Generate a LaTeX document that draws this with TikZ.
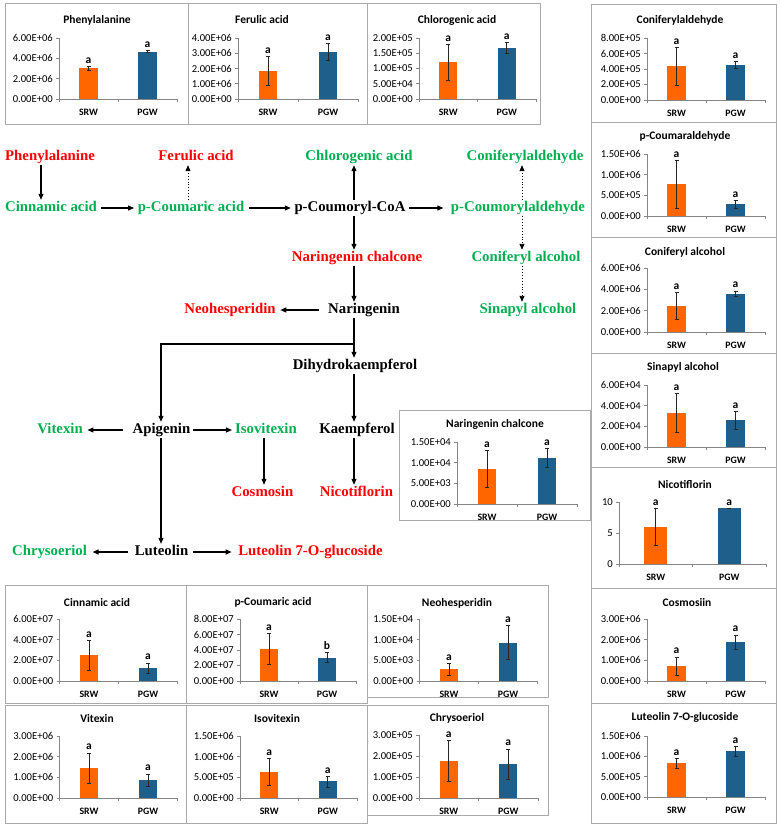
\documentclass[tikz,border=0pt]{standalone}
\usepackage{fontspec}
\setmainfont{Liberation Serif}
\newfontfamily\chartfont{Carlito}
\usetikzlibrary{arrows.meta}
\definecolor{pred}{RGB}{255,0,0}
\definecolor{pgreen}{RGB}{0,176,80}
\definecolor{orbar}{RGB}{255,102,0}
\definecolor{blbar}{RGB}{31,95,140}
\definecolor{boxgray}{RGB}{170,170,170}
\definecolor{axgray}{RGB}{134,134,134}
\tikzset{
 pwnode/.style={font=\fontsize{14.8}{16}\selectfont\bfseries, inner sep=1.5pt, text height=10pt, text depth=3pt},
 rd/.style={pwnode, text=pred},
 gr/.style={pwnode, text=pgreen},
 bk/.style={pwnode, text=black},
 arr/.style={-{Triangle[length=6pt,width=5pt]}, line width=1.1pt},
 darr/.style={-{Triangle[length=6pt,width=5pt]}, line width=0.9pt, dotted},
 boxline/.style={draw=boxgray, line width=0.8pt},
 axisline/.style={draw=axgray, line width=0.7pt},
 ctitle/.style={font=\chartfont\bfseries\fontsize{11.5}{13}\selectfont, inner sep=0pt},
 ticklab/.style={font=\chartfont\fontsize{10.6}{12}\selectfont, inner sep=0pt},
 catlab/.style={font=\chartfont\bfseries\fontsize{9.8}{11}\selectfont, inner sep=0pt},
 letter/.style={font=\chartfont\bfseries\fontsize{11.5}{13}\selectfont, inner sep=0pt},
 srw/.style={fill=orbar}, pgw/.style={fill=blbar},
 errbar/.style={draw=black!85, line width=0.6pt},
}
\newcommand\mkbox[4]{\draw[boxline] (#1,#2) rectangle (#3,#4);}
\newcommand\mktitle[3]{\node[ctitle] at (#1,#2) {#3};}
\newcommand\mkarea[4]{\def\cA{#1}\def\cR{#2}\def\cT{#3}\def\cB{#4}}
\newcommand\mkaxes[2]{%
  \draw[axisline] (\cA,\cT) -- (\cA,\cB) -- (\cR,\cB);%
  \foreach \l [count=\i from 0] in {#2} {%
    \pgfmathsetmacro\yy{\cB-\i*(\cB-\cT)/#1}%
    \draw[axisline] (\cA-3,\yy) -- (\cA,\yy);%
    \node[ticklab, anchor=east] at (\cA-6,\yy) {\l};%
  }%
  \pgfmathsetmacro\xm{(\cA+\cR)/2}%
  \draw[axisline] (\cA,\cB) -- (\cA,\cB+3) (\xm,\cB) -- (\xm,\cB+3) (\cR,\cB) -- (\cR,\cB+3);%
  \node[catlab] at ({\cA+(\cR-\cA)/4},\cB+13) {SRW};%
  \node[catlab] at ({\cA+3*(\cR-\cA)/4},\cB+13) {PGW};%
}
\newcommand\mkonebar[5]{%
  \pgfmathsetmacro\xc{#2}%
  \pgfmathsetmacro\yt{\cB-(#3)*\hs}%
  \pgfmathsetmacro\ya{\cB-(#3+#4)*\hs}%
  \pgfmathsetmacro\yb{\cB-(#3-#4)*\hs}%
  \fill[#1] (\xc-\bw/2,\cB) rectangle (\xc+\bw/2,\yt);%
  \draw[errbar] (\xc,\ya) -- (\xc,\yb) (\xc-2,\ya) -- (\xc+2,\ya) (\xc-2,\yb) -- (\xc+2,\yb);%
  \node[letter, anchor=base] at (\xc,\ya-3) {#5};%
}
\newcommand\mkbars[7]{%
  \pgfmathsetmacro\pw{\cR-\cA}%
  \pgfmathsetmacro\bw{0.155*\pw}%
  \pgfmathsetmacro\hs{(\cB-\cT)/#1}%
  \mkonebar{srw}{\cA+\pw/4}{#2}{#3}{#4}%
  \mkonebar{pgw}{\cA+3*\pw/4}{#5}{#6}{#7}%
}
\begin{document}
\begin{tikzpicture}[x=1pt,y=-1pt]
\useasboundingbox (0,0) rectangle (780,828);
\fill[white] (0,0) rectangle (780,828);

% ---------- charts ----------
% Phenylalanine
\mkbox{5}{3}{188}{124}\mktitle{97}{20}{Phenylalanine}
\mkarea{59}{177}{38}{99}\mkbars{6}{3.05}{0.18}{a}{4.65}{0.1}{a}
\mkaxes{3}{0.00E+00,2.00E+06,4.00E+06,6.00E+06}
% Ferulic acid
\mkbox{188}{3}{367}{124}\mktitle{262}{20}{Ferulic acid}
\mkarea{238}{358}{38}{99}\mkbars{4}{1.85}{0.95}{a}{3.1}{0.55}{a}
\mkaxes{4}{0.00E+00,1.00E+06,2.00E+06,3.00E+06,4.00E+06}
% Chlorogenic acid
\mkbox{367}{3}{540}{124}\mktitle{457}{20}{Chlorogenic acid}
\mkarea{419}{536}{38}{99}\mkbars{2}{1.2}{0.6}{a}{1.68}{0.18}{a}
\mkaxes{4}{0.00E+00,5.00E+04,1.00E+05,1.50E+05,2.00E+05}
% Coniferylaldehyde
\mkbox{591}{4}{776}{122}\mktitle{680}{20}{Coniferylaldehyde}
\mkarea{647}{765}{38}{100}\mkbars{8}{4.35}{2.4}{a}{4.5}{0.45}{a}
\mkaxes{4}{0.00E+00,2.00E+05,4.00E+05,6.00E+05,8.00E+05}
% p-Coumaraldehyde
\mkbox{591}{122}{776}{237}\mktitle{685}{136}{p-Coumaraldehyde}
\mkarea{647}{765}{154}{216}\mkbars{1.5}{0.77}{0.58}{a}{0.28}{0.09}{a}
\mkaxes{3}{0.00E+00,5.00E+05,1.00E+06,1.50E+06}
% Coniferyl alcohol
\mkbox{591}{237}{776}{353}\mktitle{685}{252}{Coniferyl alcohol}
\mkarea{647}{765}{268}{332}\mkbars{6}{2.43}{1.25}{a}{3.6}{0.25}{a}
\mkaxes{3}{0.00E+00,2.00E+06,4.00E+06,6.00E+06}
% Sinapyl alcohol
\mkbox{591}{353}{776}{467}\mktitle{683}{367}{Sinapyl alcohol}
\mkarea{647}{765}{385}{447}\mkbars{6}{3.3}{1.9}{a}{2.6}{0.85}{a}
\mkaxes{3}{0.00E+00,2.00E+04,4.00E+04,6.00E+04}
% Nicotiflorin
\mkbox{591}{467}{776}{588}\mktitle{685}{484}{Nicotiflorin}
\mkarea{619}{766}{502}{564}\mkbars{10}{6}{3}{a}{9}{0.03}{a}
\mkaxes{2}{0,5,10}
% Cosmosiin
\mkbox{591}{588}{776}{703}\mktitle{687}{602}{Cosmosiin}
\mkarea{647}{765}{619}{681}\mkbars{3}{0.72}{0.45}{a}{1.88}{0.35}{a}
\mkaxes{3}{0.00E+00,1.00E+06,2.00E+06,3.00E+06}
% Luteolin 7-O-glucoside
\mkbox{591}{703}{776}{823}\mktitle{685}{717}{Luteolin 7-O-glucoside}
\mkarea{647}{765}{736}{797}\mkbars{1.5}{0.83}{0.12}{a}{1.13}{0.12}{a}
\mkaxes{3}{0.00E+00,5.00E+05,1.00E+06,1.50E+06}
% Cinnamic acid
\mkbox{5}{585}{186}{703}\mktitle{97}{602}{Cinnamic acid}
\mkarea{59.5}{177.5}{619}{681}\mkbars{6}{2.5}{1.45}{a}{1.25}{0.5}{a}
\mkaxes{3}{0.00E+00,2.00E+07,4.00E+07,6.00E+07}
% p-Coumaric acid
\mkbox{186}{585}{367}{703}\mktitle{273}{602}{p-Coumaric acid}
\mkarea{240}{356}{619}{681}\mkbars{8}{4.1}{2.0}{a}{3.0}{0.65}{b}
\mkaxes{4}{0.00E+00,2.00E+07,4.00E+07,6.00E+07,8.00E+07}
% Neohesperidin
\mkbox{367}{585}{548}{697}\mktitle{457}{603}{Neohesperidin}
\mkarea{419.5}{537.5}{619}{681}\mkbars{15}{2.8}{1.5}{a}{9.3}{4.1}{a}
\mkaxes{3}{0.00E+00,5.00E+03,1.00E+04,1.50E+04}
% Vitexin
\mkbox{5}{705}{186}{823}\mktitle{97}{718}{Vitexin}
\mkarea{59.5}{177.5}{736}{798}\mkbars{3}{1.45}{0.73}{a}{0.87}{0.3}{a}
\mkaxes{3}{0.00E+00,1.00E+06,2.00E+06,3.00E+06}
% Isovitexin
\mkbox{186}{705}{367}{823}\mktitle{277}{718}{Isovitexin}
\mkarea{240}{357}{736}{798}\mkbars{1.5}{0.63}{0.33}{a}{0.4}{0.13}{a}
\mkaxes{3}{0.00E+00,5.00E+05,1.00E+06,1.50E+06}
% Chrysoeriol
\mkbox{367}{705}{548}{815}\mktitle{457}{718}{Chrysoeriol}
\mkarea{419}{538}{735}{798}\mkbars{3}{1.77}{0.97}{a}{1.62}{0.72}{a}
\mkaxes{3}{0.00E+00,1.00E+05,2.00E+05,3.00E+05}
% Naringenin chalcone
\mkbox{399}{410}{590}{520}\mktitle{495}{424}{Naringenin chalcone}
\mkarea{457}{577}{442}{504}\mkbars{15}{8.5}{4.5}{a}{11.2}{2.3}{a}
\mkaxes{3}{0.00E+00,5.00E+03,1.00E+04,1.50E+04}

% ---------- pathway ----------
\node[rd] (phe) at (50,157) {Phenylalanine};
\node[rd] (fer) at (196,157) {Ferulic acid};
\node[gr] (chl) at (359,157) {Chlorogenic acid};
\node[gr] (conald) at (525,157) {Coniferylaldehyde};
\node[gr] (cin) at (51,208) {Cinnamic acid};
\node[gr] (pcou) at (191,208) {p-Coumaric acid};
\node[bk] (pcoa) at (350,208) {p-Coumoryl-CoA};
\node[gr] (pald) at (518,208) {p-Coumorylaldehyde};
\node[rd] (narch) at (357,258) {Naringenin chalcone};
\node[gr] (conalc) at (526,258) {Coniferyl alcohol};
\node[rd] (neo) at (230,310) {Neohesperidin};
\node[bk] (nar) at (364,310) {Naringenin};
\node[gr] (sin) at (528,310) {Sinapyl alcohol};
\node[bk] (dhk) at (355,366) {Dihydrokaempferol};
\node[gr] (vit) at (60,430) {Vitexin};
\node[bk] (api) at (161.5,430) {Apigenin};
\node[gr] (iso) at (266,430) {Isovitexin};
\node[bk] (kae) at (357,430) {Kaempferol};
\node[rd] (cos) at (262.5,493) {Cosmosin};
\node[rd] (nic) at (356.5,493) {Nicotiflorin};
\node[gr] (chr) at (49.5,552) {Chrysoeriol};
\node[bk] (lut) at (161.5,552) {Luteolin};
\node[rd] (l7g) at (310.5,552) {Luteolin 7-O-glucoside};

\coordinate (xa) at (41,0);
\coordinate (xf) at (188,0);
\coordinate (xb) at (354,0);
\coordinate (xd) at (522,0);
\coordinate (xl) at (161,0);
\coordinate (xi) at (264,0);
\coordinate (br) at (354,344);
\coordinate (bl) at (161,344);

\draw[arr] (phe.south -| xa) -- (cin.north -| xa);
\draw[arr, shorten <=2pt, shorten >=2pt] (cin.east) -- (pcou.west);
\draw[darr] (pcou.north -| xf) -- (fer.south -| xf);
\draw[arr, shorten <=3pt, shorten >=2pt] (pcou.east) -- (pcoa.west);
\draw[arr] (pcoa.north -| xb) -- (chl.south -| xb);
\draw[arr, shorten <=2pt, shorten >=6pt] (pcoa.east) -- (pald.west);
\draw[darr] (pald.north -| xd) -- (conald.south -| xd);
\draw[darr] (pald.south -| xd) -- (conalc.north -| xd);
\draw[darr] (conalc.south -| xd) -- (sin.north -| xd);
\draw[arr] (pcoa.south -| xb) -- (narch.north -| xb);
\draw[arr] (narch.south -| xb) -- (nar.north -| xb);
\draw[arr, shorten <=8pt, shorten >=3pt] (nar.west) -- (neo.east);
\draw[arr] (nar.south -| xb) -- (dhk.north -| xb);
\draw[arr] (br) -- (bl) -- (api.north -| bl);
\draw[arr] (dhk.south -| xb) -- (kae.north -| xb);
\draw[arr, shorten <=8pt, shorten >=3pt] (api.west) -- (vit.east);
\draw[arr, shorten <=1pt, shorten >=1.5pt] (api.east) -- (iso.west);
\draw[arr] (iso.south -| xi) -- (cos.north -| xi);
\draw[arr] (kae.south -| xb) -- (nic.north -| xb);
\draw[arr] (api.south -| xl) -- (lut.north -| xl);
\draw[arr, shorten <=5pt, shorten >=4pt] (lut.west) -- (chr.east);
\draw[arr, shorten <=3.5pt, shorten >=5pt] (lut.east) -- (l7g.west);
\end{tikzpicture}
\end{document}
